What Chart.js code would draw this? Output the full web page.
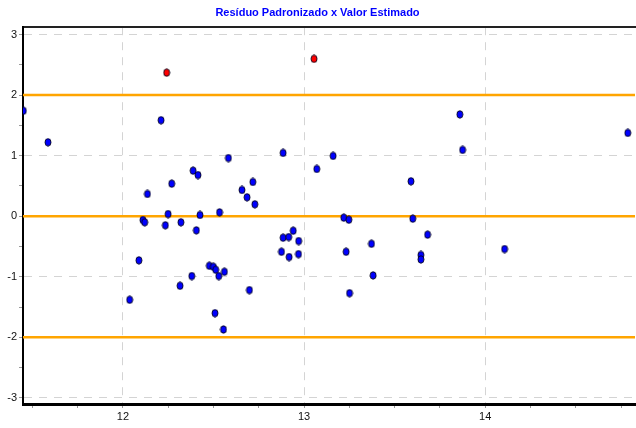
<!DOCTYPE html>
<html lang="pt">
<head>
<meta charset="UTF-8">
<title>Resíduo Padronizado x Valor Estimado</title>
<script src="https://cdn.jsdelivr.net/npm/chart.js"></script>
<style>
    html, body { margin: 0; padding: 0; background: #fff; }
    #wrap { width: 636px; height: 428px; }
</style>
</head>
<body>
<div id="wrap"><canvas id="myChart" width="636" height="428"></canvas></div>
<script>
    // valor estimado (x) e residuo padronizado (y)
    const valorEstimado = [
        11.45, 11.586, 12.241, 12.21, 12.387, 12.414, 12.269, 12.135, 12.582, 12.717,
        12.657, 12.685, 12.728, 12.249, 12.425, 12.533, 12.11, 12.12, 12.234, 12.32,
        12.405, 12.088, 12.477, 12.499, 12.512, 12.529, 12.56, 12.38, 12.315, 12.037,
        12.698, 12.508, 12.555, 12.884, 12.915, 12.94, 12.97, 12.875, 12.917, 12.969,
        13.055, 12.884, 13.16, 13.07, 13.59, 13.86, 13.219, 13.247, 13.6, 13.682,
        13.232, 13.372, 13.645, 13.645, 13.381, 13.251, 13.875, 14.107, 14.787
    ];
    const residuoPadronizado = [
        1.74, 1.22, 2.37, 1.585, 0.752, 0.68, 0.537, 0.367, 0.96, 0.565,
        0.433, 0.312, 0.197, 0.036, 0.02, 0.064, -0.063, -0.10, -0.15, -0.10,
        -0.233, -0.729, -0.818, -0.835, -0.884, -0.988, -0.917, -0.988, -1.148, -1.38,
        -1.22, -1.6, -1.87, -0.355, -0.344, -0.24, -0.41, -0.587, -0.674, -0.625,
        2.598, 1.045, 0.995, 0.78, 0.577, 1.68, -0.024, -0.058, -0.04, -0.305,
        -0.587, -0.455, -0.64, -0.713, -0.977, -1.27, 1.094, -0.542, 1.375
    ];

    const limiteX = [11.448, 14.827];
    const limiteY = [-3.1, 3.12];
    const linhasReferencia = [-2, 0, 2];
    const ticksX = [12, 13, 14];
    const ticksY = [-3, -2, -1, 0, 1, 2, 3];
    const passoMenorX = 0.25;
    const passoMenorY = 0.5;

    // ponto oval como imagem
    function criaPonto(cor) {
        const c = document.createElement('canvas');
        c.width = 8; c.height = 9;
        const g = c.getContext('2d');
        g.beginPath();
        g.ellipse(4, 4.5, 3.0, 3.7, 0, 0, Math.PI * 2);
        g.fillStyle = cor;
        g.fill();
        g.lineWidth = 0.9;
        g.strokeStyle = '#000018';
        g.stroke();
        return c;
    }
    const pontoAzul = criaPonto('#0000ff');
    const pontoVermelho = criaPonto('#ff0000');

    const normais = [], extremos = [];
    valorEstimado.forEach((x, i) => {
        const y = residuoPadronizado[i];
        if (Math.abs(y) > 2) extremos.push({x: x, y: y});
        else normais.push({x: x, y: y});
    });

    const datasets = [
        { type: 'scatter', data: extremos, pointStyle: pontoVermelho, pointRadius: 4 },
        { type: 'scatter', data: normais, pointStyle: pontoAzul, pointRadius: 4 }
    ];
    linhasReferencia.forEach(v => {
        datasets.push({
            type: 'line',
            data: [{x: limiteX[0], y: v}, {x: limiteX[1], y: v}],
            borderColor: '#ffa500',
            borderWidth: 2.5,
            pointRadius: 0,
            fill: false
        });
    });

    function ticksMenores(scale, passo) {
        const arr = [];
        let v = Math.ceil(scale.min / passo - 1e-9) * passo;
        while (v <= scale.max + 1e-9) {
            arr.push({value: Math.round(v * 1000) / 1000});
            v += passo;
        }
        scale.ticks = arr;
    }
    const ehMaior = (lista, v) => lista.some(t => Math.abs(t - v) < 1e-6);
    const semPadding = s => { s.paddingLeft = 0; s.paddingRight = 0; s.paddingTop = 0; s.paddingBottom = 0; };

    const fonteTicks = { family: 'Liberation Sans, Arial, sans-serif', size: 11 };

    const ctx = document.getElementById('myChart').getContext('2d');
    const myChart = new Chart(ctx, {
        type: 'scatter',
        data: { datasets: datasets },
        options: {
            responsive: false,
            animation: false,
            layout: { autoPadding: false, padding: { left: 0, right: 1, top: 0, bottom: 0 } },
            plugins: {
                legend: { display: false },
                tooltip: { enabled: false },
                title: {
                    display: true,
                    text: 'Resíduo Padronizado x Valor Estimado',
                    color: '#0000ff',
                    font: { family: 'Liberation Sans, Arial, sans-serif', size: 11, weight: 'bold' },
                    padding: { top: 6, bottom: 8 }
                }
            },
            scales: {
                x: {
                    type: 'linear',
                    position: 'bottom',
                    min: limiteX[0],
                    max: limiteX[1],
                    afterBuildTicks: s => ticksMenores(s, passoMenorX),
                    afterFit: s => { s.height = 24; semPadding(s); },
                    ticks: {
                        color: '#111',
                        font: fonteTicks,
                        padding: 2,
                        maxRotation: 0,
                        autoSkip: false,
                        callback: v => ehMaior(ticksX, v) ? String(v) : ''
                    },
                    grid: {
                        color: c => ehMaior(ticksX, c.tick.value) ? '#d4d4d4' : 'rgba(0,0,0,0)',
                        lineWidth: 1,
                        tickColor: '#999',
                        tickLength: 4
                    },
                    border: { display: true, color: '#000', width: 3, dash: [8, 7] }
                },
                xTopo: {
                    type: 'linear',
                    position: 'top',
                    min: limiteX[0],
                    max: limiteX[1],
                    afterFit: s => { s.height = 0; semPadding(s); },
                    ticks: { display: false, padding: 0 },
                    grid: { display: false, drawTicks: false },
                    border: { display: true, color: '#222', width: 2 }
                },
                y: {
                    type: 'linear',
                    position: 'left',
                    min: limiteY[0],
                    max: limiteY[1],
                    afterBuildTicks: s => ticksMenores(s, passoMenorY),
                    afterFit: s => { s.width = 23; semPadding(s); },
                    ticks: {
                        color: '#111',
                        font: fonteTicks,
                        padding: 2,
                        autoSkip: false,
                        callback: v => ehMaior(ticksY, v) ? String(v) : ''
                    },
                    grid: {
                        color: c => ehMaior(ticksY, c.tick.value) ? '#d4d4d4' : 'rgba(0,0,0,0)',
                        lineWidth: 1,
                        tickColor: '#999',
                        tickLength: 4
                    },
                    border: { display: true, color: '#000', width: 2, dash: [8, 7] }
                }
            }
        }
    });
</script>
</body>
</html>
